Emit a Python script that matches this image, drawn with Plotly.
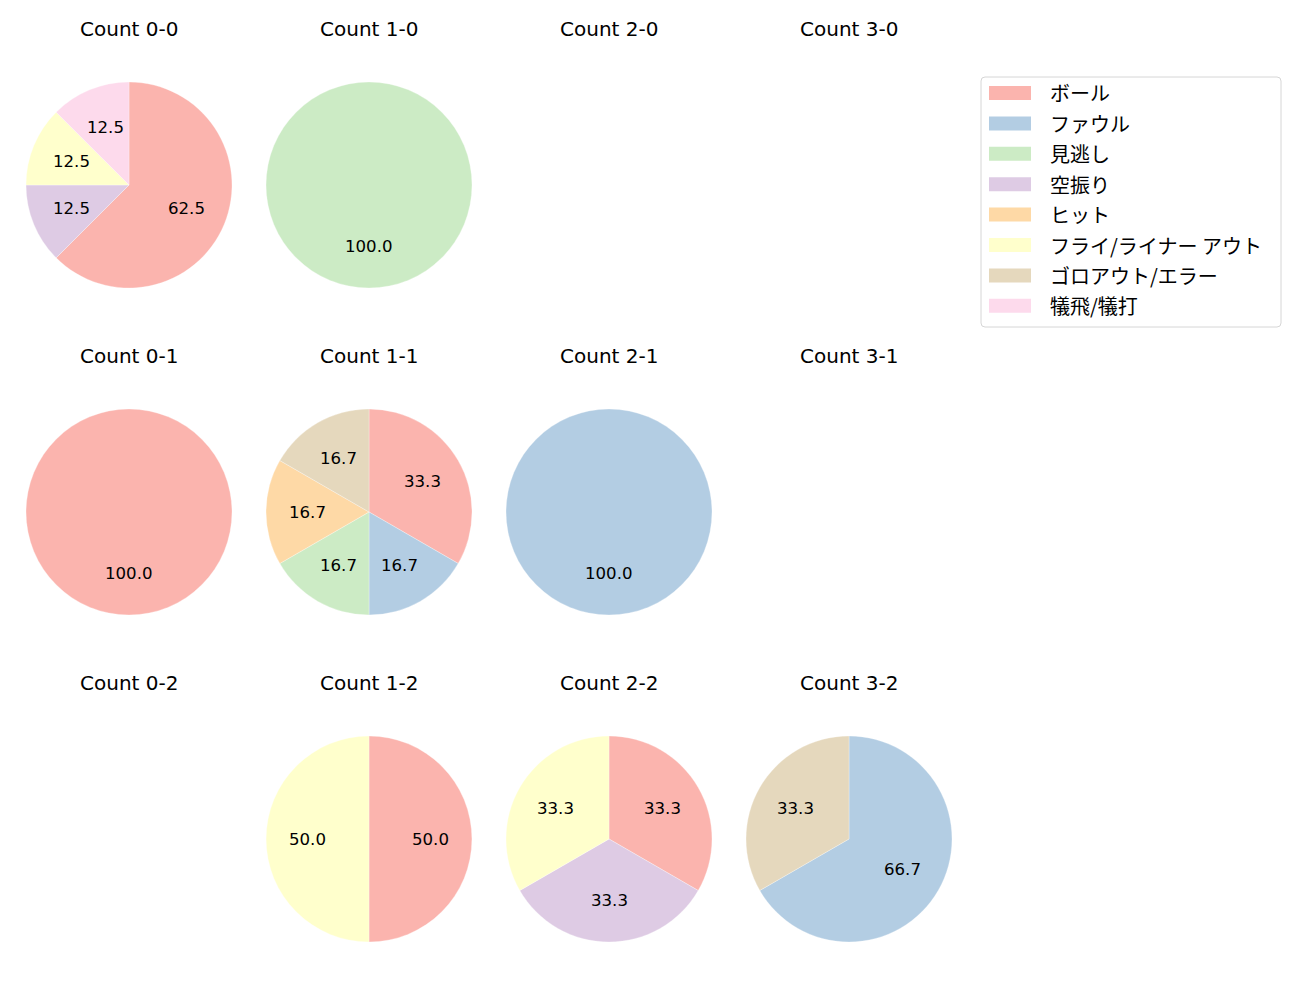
import math
import plotly.graph_objects as go

# ---------------- data ----------------
labels = ["ボール", "ファウル", "見逃し", "空振り", "ヒット",
          "フライ/ライナー アウト", "ゴロアウト/エラー", "犠飛/犠打"]
colors = ["#fbb4ae", "#b3cde3", "#ccebc5", "#decbe4", "#fed9a6",
          "#ffffcc", "#e5d8bd", "#fddaec"]
balls = [0, 1, 2, 3]
strikes = [0, 1, 2]

# values per count, in label order
count_0_0 = [5, 0, 0, 1, 0, 1, 0, 1]
count_1_0 = [0, 0, 1, 0, 0, 0, 0, 0]
count_2_0 = [0, 0, 0, 0, 0, 0, 0, 0]
count_3_0 = [0, 0, 0, 0, 0, 0, 0, 0]
count_0_1 = [1, 0, 0, 0, 0, 0, 0, 0]
count_1_1 = [2, 1, 1, 0, 1, 0, 1, 0]
count_2_1 = [0, 1, 0, 0, 0, 0, 0, 0]
count_3_1 = [0, 0, 0, 0, 0, 0, 0, 0]
count_0_2 = [0, 0, 0, 0, 0, 0, 0, 0]
count_1_2 = [1, 0, 0, 0, 0, 1, 0, 0]
count_2_2 = [1, 0, 0, 1, 0, 1, 0, 0]
count_3_2 = [0, 2, 0, 0, 0, 0, 1, 0]

counts = {
    (0, 0): count_0_0, (1, 0): count_1_0, (2, 0): count_2_0, (3, 0): count_3_0,
    (0, 1): count_0_1, (1, 1): count_1_1, (2, 1): count_2_1, (3, 1): count_3_1,
    (0, 2): count_0_2, (1, 2): count_1_2, (2, 2): count_2_2, (3, 2): count_3_2,
}

# ---------------- layout geometry (pixels) ----------------
W, H = 1300, 1000
LATIN = "DejaVu Sans, Noto Sans CJK JP, sans-serif"
CJK = "Noto Sans CJK JP, DejaVu Sans, sans-serif"
col_cx = [129, 369, 609, 849]
row_cy = [185, 512, 839]
R = 103
TITLE_DY = 156


def px(x):
    return x / W


def py(y):
    return 1 - y / H


fig = go.Figure()
annotations = []

for (b, s), vals in counts.items():
    cx, cy = col_cx[b], row_cy[s]
    annotations.append(dict(
        x=px(cx), y=py(cy - TITLE_DY), xref="paper", yref="paper",
        text=f"Count {b}-{s}", showarrow=False, xanchor="center", yanchor="middle",
        font=dict(family=LATIN, size=20, color="black")))
    total = sum(vals)
    if total == 0:
        continue
    lab = [l for l, v in zip(labels, vals) if v > 0]
    val = [v for v in vals if v > 0]
    col = [c for c, v in zip(colors, vals) if v > 0]
    fig.add_trace(go.Pie(
        labels=lab, values=val, sort=False, direction="clockwise", rotation=0,
        marker=dict(colors=col, line=dict(color="white", width=0.3)),
        textinfo="none", showlegend=False,
        hovertemplate="%{label}: %{percent}<extra></extra>",
        domain=dict(x=[px(cx - R), px(cx + R)], y=[py(cy + R), py(cy - R)]),
    ))
    cum = 0
    for v in val:
        mid = math.radians(90 - 360 * (cum + v / 2) / total)
        cum += v
        tx = cx + 0.6 * R * math.cos(mid)
        ty = cy - 0.6 * R * math.sin(mid)
        annotations.append(dict(
            x=px(tx), y=py(ty), xref="paper", yref="paper",
            text=f"{100 * v / total:.1f}", showarrow=False,
            xanchor="center", yanchor="middle",
            font=dict(family=LATIN, size=16.6, color="black")))

# ---------------- legend (drawn manually, matplotlib style) ----------------
shapes = []
LX0, LX1, LY0, LY1 = 981, 1281, 77, 327
rr = 4
path = (f"M {px(LX0 + rr)},{py(LY0)} L {px(LX1 - rr)},{py(LY0)} "
        f"Q {px(LX1)},{py(LY0)} {px(LX1)},{py(LY0 + rr)} "
        f"L {px(LX1)},{py(LY1 - rr)} Q {px(LX1)},{py(LY1)} {px(LX1 - rr)},{py(LY1)} "
        f"L {px(LX0 + rr)},{py(LY1)} Q {px(LX0)},{py(LY1)} {px(LX0)},{py(LY1 - rr)} "
        f"L {px(LX0)},{py(LY0 + rr)} Q {px(LX0)},{py(LY0)} {px(LX0 + rr)},{py(LY0)} Z")
shapes.append(dict(type="path", path=path, xref="paper", yref="paper",
                   line=dict(color="#d6d6d6", width=1), fillcolor="rgba(255,255,255,0.8)",
                   layer="above"))
first_y, step = 93, 30.4
for i, (l, c) in enumerate(zip(labels, colors)):
    yc = first_y + i * step
    shapes.append(dict(type="rect", xref="paper", yref="paper",
                       x0=px(989), x1=px(1031), y0=py(yc + 7), y1=py(yc - 7),
                       fillcolor=c, line=dict(width=0), layer="above"))
    annotations.append(dict(
        x=px(1048), y=py(yc), xref="paper", yref="paper", text=l, showarrow=False,
        xanchor="left", yanchor="middle",
        font=dict(family=CJK, size=20, color="black")))

fig.update_layout(
    width=W, height=H, margin=dict(l=0, r=0, t=0, b=0),
    paper_bgcolor="white", plot_bgcolor="white",
    annotations=annotations, shapes=shapes,
    font=dict(family=LATIN),
)

fig.write_html("out.html")
